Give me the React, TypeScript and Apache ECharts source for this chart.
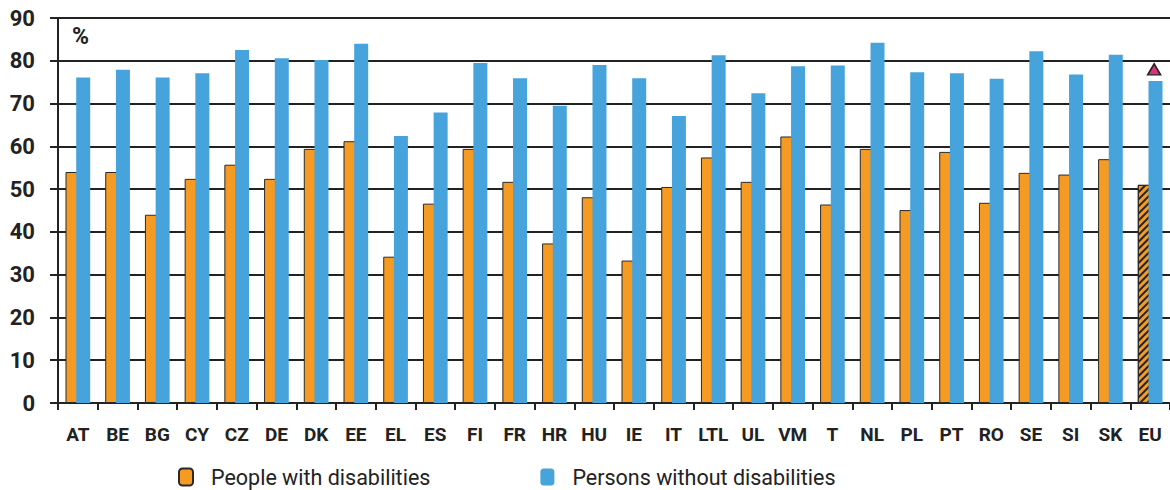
import React, { useEffect, useRef } from "react";
import * as echarts from "echarts";

const categories = ["AT","BE","BG","CY","CZ","DE","DK","EE","EL","ES","FI","FR","HR","HU","IE","IT","LTL","UL","VM","T","NL","PL","PT","RO","SE","SI","SK","EU"];
const withDisabilities = [54,54,44,52.4,55.7,52.4,59.4,61.2,34.2,46.6,59.4,51.7,37.3,48.1,33.3,50.5,57.4,51.7,62.3,46.4,59.4,45.1,58.7,46.8,53.8,53.4,57.0,51.0];
const withoutDisabilities = [76.1,77.9,76.1,77.1,82.5,80.6,80.2,84.0,62.4,67.9,79.5,75.9,69.5,79.0,75.9,67.1,81.3,72.4,78.7,78.9,84.2,77.3,77.1,75.8,82.2,76.8,81.4,75.3];
const yTicks = [0, 90, 10];
const markerCategory = "EU";
const markerValue = 78;
const seriesNames = ["People with disabilities", "Persons without disabilities"];

const ORANGE = "#f59b23";
const BLUE = "#47a3db";
const INK = "#222222";

export default function App() {
  const ref = useRef<HTMLDivElement>(null);
  useEffect(() => {
    if (!ref.current) return;
    const chart = echarts.init(ref.current, undefined, { renderer: "svg" });
    const hatch = {
      symbol: "rect",
      symbolSize: 1,
      dashArrayX: [1, 0],
      dashArrayY: [2, 3],
      rotation: -Math.PI / 4,
      color: INK,
    };
    const orangeData = withDisabilities.map((v, i) =>
      categories[i] === "EU" ? { value: v, itemStyle: { decal: hatch } } : v
    );
    chart.setOption({
      animation: false,
      aria: { enabled: true, decal: { show: false } },
      textStyle: { fontFamily: "Roboto" },
      grid: { left: 58, right: -8, top: 18, bottom: 87, containLabel: false },
      legend: {
        data: seriesNames,
        left: 173,
        top: 461,
        padding: 5,
        itemWidth: 14,
        itemHeight: 17,
        itemGap: 110,
        textStyle: { fontSize: 21.5, lineHeight: 22, color: INK, fontFamily: "Roboto", padding: [0, 0, 0, 13] },
      },
      graphic: [
        {
          type: "text",
          left: 72,
          top: 25,
          style: { text: "%", font: "bold 23px Roboto", fill: INK },
        },
      ],
      xAxis: {
        type: "category",
        data: categories,
        boundaryGap: true,
        axisLine: { show: true, lineStyle: { color: INK, width: 2 } },
        axisTick: { show: true, interval: 0, length: 7, lineStyle: { color: INK, width: 2 } },
        axisLabel: { interval: 0, margin: 22, fontSize: 19, fontWeight: "bold", color: INK, fontFamily: "Roboto" },
      },
      yAxis: {
        type: "value",
        min: yTicks[0],
        max: yTicks[1],
        interval: yTicks[2],
        axisLine: { show: true, lineStyle: { color: INK, width: 2 } },
        axisTick: { show: true, length: 8, lineStyle: { color: INK, width: 2 } },
        splitLine: { show: true, lineStyle: { color: INK, width: 2 } },
        axisLabel: { margin: 23, fontSize: 22, fontWeight: "bold", color: INK, fontFamily: "Roboto" },
      },
      series: [
        {
          name: seriesNames[0],
          type: "bar",
          data: orangeData,
          barWidth: 13,
          barGap: "-17.7%",
          itemStyle: { color: ORANGE, borderColor: "#2a2a2a", borderWidth: 1 },
        },
        {
          name: seriesNames[1],
          type: "bar",
          data: withoutDisabilities,
          barWidth: 14,
          itemStyle: { color: BLUE },
        },
        {
          name: "marker",
          type: "scatter",
          data: [[markerCategory, markerValue]],
          symbol: "triangle",
          symbolSize: [13, 11],
          symbolOffset: [4, 0],
          itemStyle: { color: "#d8337a", borderColor: INK, borderWidth: 1.5, opacity: 1 },
          z: 5,
        },
      ],
    });
    return () => chart.dispose();
  }, []);
  return (
    <div
      ref={ref}
      style={{ position: "absolute", left: 0, top: 0, width: 1170, height: 490 }}
    />
  );
}
